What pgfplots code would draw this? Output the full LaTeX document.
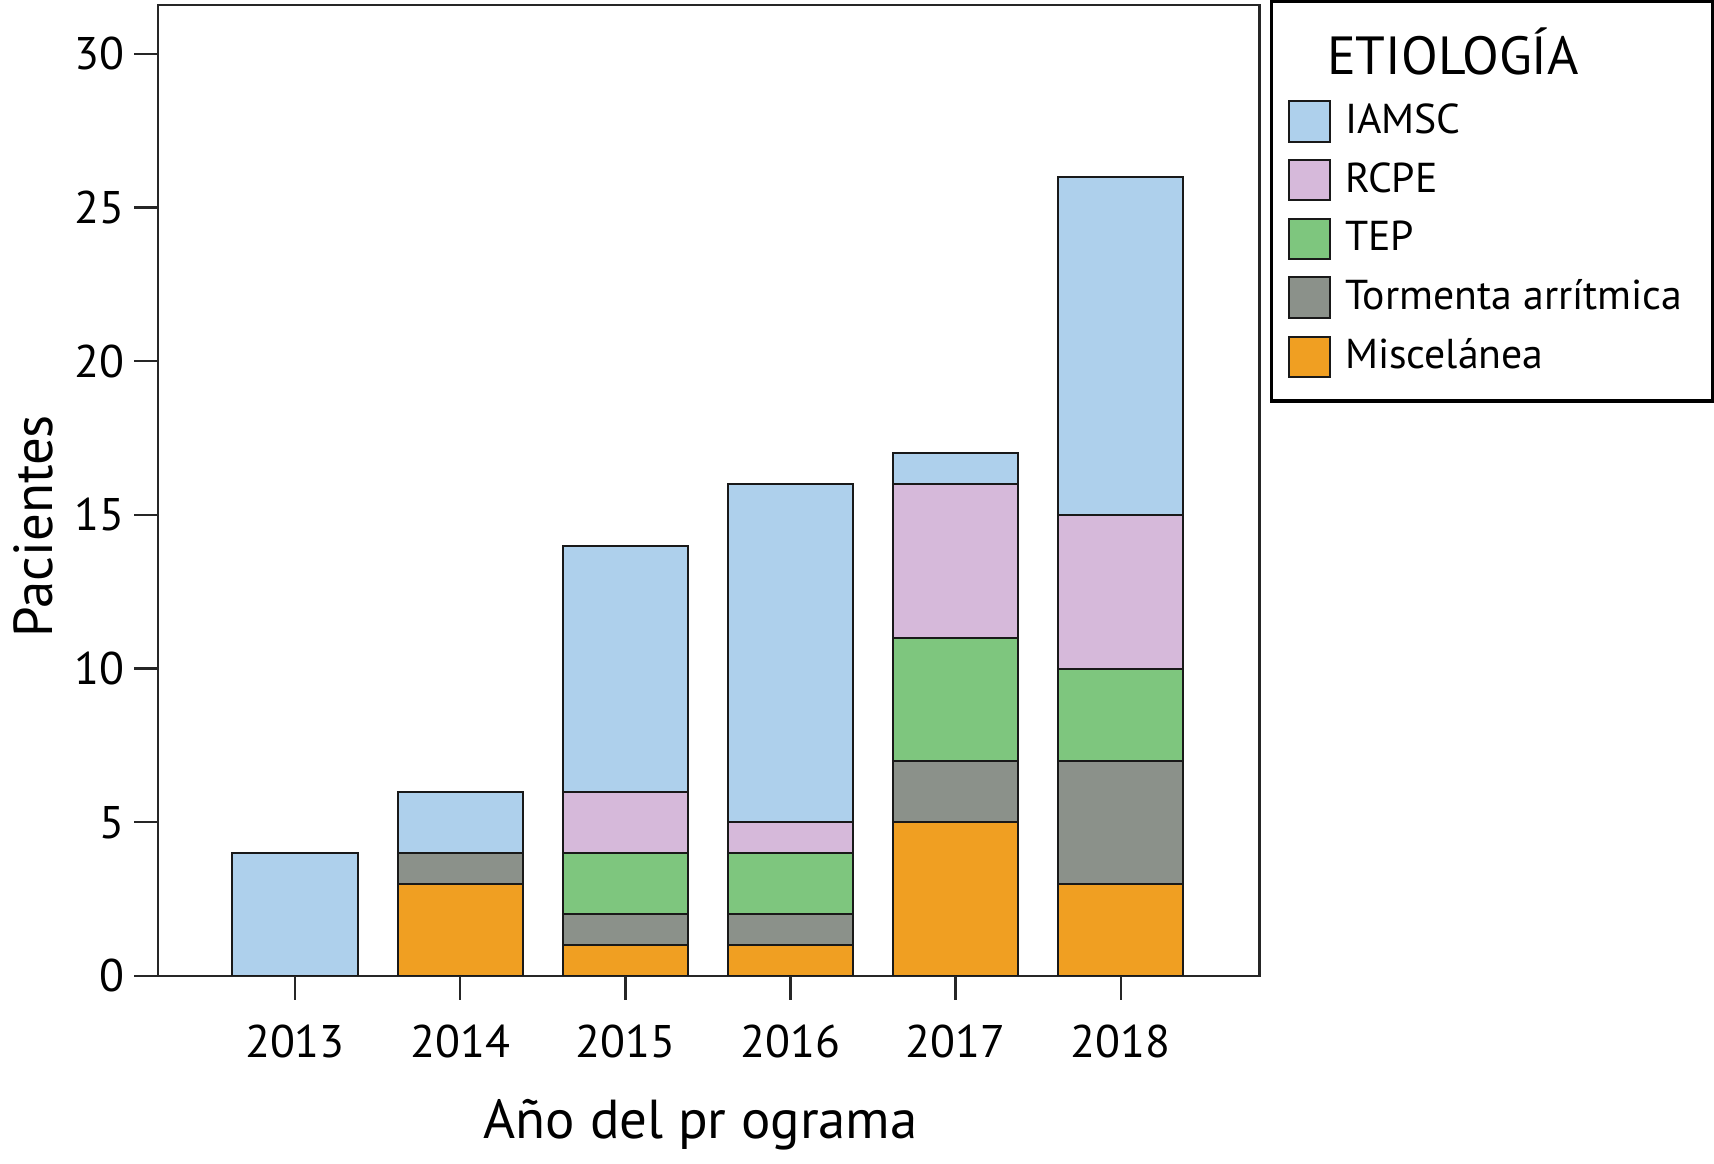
\documentclass[border=0pt]{standalone}
\usepackage{fontspec}
\setmainfont{PT Sans}
\usepackage{pgfplots}
\pgfplotsset{compat=1.18}

\definecolor{iamsc}{HTML}{AED0EC}
\definecolor{rcpe}{HTML}{D6B9DA}
\definecolor{tep}{HTML}{7EC67E}
\definecolor{torm}{HTML}{8B918A}
\definecolor{misc}{HTML}{F09F22}

\begin{document}
\begin{tikzpicture}
\begin{axis}[
    scale only axis,
    width=277pt, height=244.2pt,
    ybar stacked,
    bar width=31.5pt,
    xmin=-0.83, xmax=5.84,
    ymin=0, ymax=31.6,
    xtick={0,1,2,3,4,5},
    xticklabels={2013,2014,2015,2016,2017,2018},
    ytick={0,5,10,15,20,25,30},
    tick align=outside,
    major tick length=6pt,
    tick style={line width=0.6pt, black!85},
    axis line style={line width=0.6pt, black!85},
    ticklabel style={font=\fontsize{11.5}{13}\selectfont},
    xticklabel style={yshift=-2.7pt},
    yticklabel style={xshift=1pt},
    /pgf/number format/assume math mode=true,
    xtick pos=bottom, ytick pos=left,
    xlabel={Año del pr ograma},
    ylabel={Pacientes},
    label style={font=\fontsize{13.8}{15}\selectfont},
    xlabel style={yshift=-3.5pt, xshift=-2pt},
    ylabel style={xshift=-9pt, yshift=-1.5pt},
    reverse legend,
    legend style={at={(1,1)}, anchor=north west, xshift=2.7pt, yshift=1.2pt,
        draw=black, line width=0.8pt, font=\fontsize{10.5}{12}\selectfont,
        inner xsep=4pt, inner ysep=4.6pt,
        row sep=1.8pt, legend cell align=left,
        nodes={inner xsep=3.5pt}},
    legend image code/.code={\draw[#1, line width=0.5pt] (0pt,-5.1pt) rectangle (10.4pt,5.1pt);},
    every axis plot/.append style={draw=black!90, line width=0.5pt},
]
\addplot[fill=misc] coordinates {(0,0) (1,3) (2,1) (3,1) (4,5) (5,3)};
\addlegendentry{Miscelánea}
\addplot[fill=torm] coordinates {(0,0) (1,1) (2,1) (3,1) (4,2) (5,4)};
\addlegendentry{Tormenta arrítmica}
\addplot[fill=tep] coordinates {(0,0) (1,0) (2,2) (3,2) (4,4) (5,3)};
\addlegendentry{TEP}
\addplot[fill=rcpe] coordinates {(0,0) (1,0) (2,2) (3,1) (4,5) (5,5)};
\addlegendentry{RCPE}
\addplot[fill=iamsc] coordinates {(0,4) (1,2) (2,8) (3,11) (4,1) (5,11)};
\addlegendentry{IAMSC}
\addlegendimage{empty legend}
\addlegendentry{\hspace*{-4.5pt}\fontsize{13.5}{16}\selectfont ETIOLOGÍA\rule[-9pt]{0pt}{8pt}}
\end{axis}
\end{tikzpicture}
\end{document}
